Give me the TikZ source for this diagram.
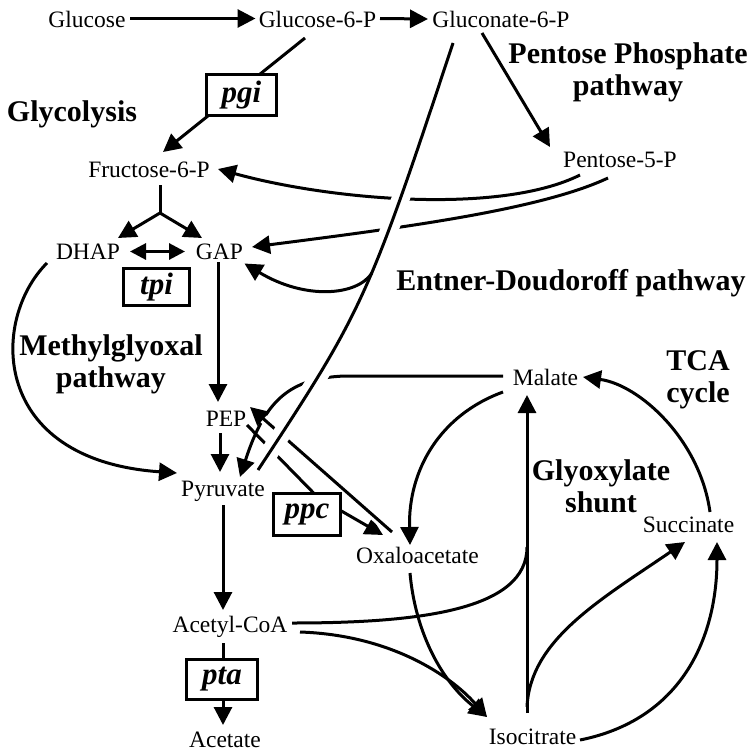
\documentclass[tikz,border=0pt]{standalone}
\usepackage{fontspec}
\setmainfont{Liberation Serif}
\usetikzlibrary{arrows.meta}
\pgfdeclarelayer{fg}
\pgfsetlayers{main,fg}
\begin{document}
\begin{tikzpicture}[x=1pt,y=-1pt,
  con/.style={line width=3pt},
  arr/.style={con,-{Triangle[length=18pt,width=18pt]}},
  darr/.style={con,{Triangle[length=16pt,width=16pt]}-{Triangle[length=16pt,width=16pt]}},
  met/.style={font=\fontsize{23.5}{26}\selectfont,inner sep=0pt,text height=15.5pt,text depth=0pt},
  lab/.style={font=\fontsize{30}{32}\selectfont\bfseries,align=center,inner sep=0pt},
  gene/.style={draw,fill=white,line width=3pt,inner sep=0pt,font=\fontsize{31}{33}\selectfont\bfseries\itshape},
  cut/.style={preaction={draw=white,-,line width=#1,shorten <=8pt,shorten >=8pt}}
]
\useasboundingbox (0,0) rectangle (750,752);

% metabolites
\node[met] (glc) at (87,19.5) {Glucose};
\node[met] (g6p) at (317.5,19.5) {Glucose-6-P};
\node[met] (gln) at (501,20) {Gluconate-6-P};
\node[met] (ppp) at (620,159.5) {Pentose-5-P};
\node[met] (f6p) at (149,169.5) {Fructose-6-P};
\node[met] (dhap) at (88,251.5) {DHAP};
\node[met] (gap) at (219.5,251.5) {GAP};
\node[met] (pep) at (226,418.5) {PEP};
\node[met] (pyr) at (223,488.5) {Pyruvate};
\node[met] (acc) at (230,625) {Acetyl-CoA};
\node[met] (ace) at (225,739.5) {Acetate};
\node[met] (oxa) at (417.5,555.5) {Oxaloacetate};
\node[met] (mal) at (545.5,377.5) {Malate};
\node[met] (suc) at (688.5,524.5) {Succinate};
\node[met] (iso) at (532.5,736.5) {Isocitrate};

% pathway labels
\node[lab] (glyc) at (72,114.5) {Glycolysis};
\node[lab] (pppl) at (628,72) {Pentose Phosphate\\pathway};
\node[lab] (edl) at (571,283) {Entner-Doudoroff pathway};
\node[lab] (mgl) at (111,364) {Methylglyoxal\\pathway};
\node[lab] (tcal) at (698,380) {TCA\\cycle};
\node[lab] (glyl) at (601,486) {Glyoxylate\\shunt};

% gene boxes (on top)
\begin{pgfonlayer}{fg}
\node[gene,minimum width=70pt,minimum height=41pt] (pgi) at (241.5,95) {pgi};
\node[gene,minimum width=66pt,minimum height=37pt] (tpi) at (156.5,287) {tpi};
\node[gene,minimum width=67pt,minimum height=42pt] (ppc) at (307,514.5) {ppc};
\node[gene,minimum width=71pt,minimum height=40pt] (pta) at (222,679.5) {pta};
\end{pgfonlayer}

\coordinate (fork) at (160,213);
\coordinate (edjoin) at (372,273);
\coordinate (shuntjoin) at (527,547);

% top row
\draw[arr] ([shift={(43,-1)}]glc.center) -- ([shift={(-62,-1)}]g6p.center);
\draw[arr] ([shift={(62.5,-1)}]g6p.center) -- ([shift={(-73,-1)}]gln.center);
\draw[arr] ([shift={(-12.5,18.5)}]g6p.center) -- ([shift={(14,-17.5)}]f6p.center);
\draw[arr] ([shift={(-19,13)}]gln.center) -- ([shift={(-70,-12.5)}]ppp.center);

% pentose phosphate returns (under the ED line)
\draw[arr] ([shift={(-40,15.5)}]ppp.center) .. controls (500,215) and (330,200) .. ([shift={(69,-0.5)}]f6p.center);
\draw[arr] ([shift={(-12,18.5)}]ppp.center) .. controls (540,210) and (400,228) .. ([shift={(32.5,-4.5)}]gap.center);

% glycolysis
\draw[con] ([shift={(11,15.5)}]f6p.center) -- (fork);
\draw[arr] (fork) -- ([shift={(30,-13.5)}]dhap.center);
\draw[arr] (fork) -- ([shift={(-17.5,-13.5)}]gap.center);
\draw[darr] ([shift={(42,0)}]dhap.center) -- ([shift={(-34.5,0)}]gap.center);
\draw[arr] ([shift={(-1.5,10.5)}]gap.center) -- ([shift={(-8,-16.5)}]pep.center);
\draw[arr] ([shift={(-6,14.5)}]pep.center) -- ([shift={(-3,-16.5)}]pyr.center);
\draw[arr] ([shift={(0,16.5)}]pyr.center) -- ([shift={(-7,-15)}]acc.center);
\draw[arr] ([shift={(-7,18)}]acc.center) -- ([shift={(-2,-14.5)}]ace.center);

% methylglyoxal
\draw[arr] ([shift={(-41,11.5)}]dhap.center) .. controls (-10,320) and (-10,460) .. ([shift={(-46,-15.5)}]pyr.center);

% malic enzyme
\draw[arr] ([shift={(-42.5,-1.5)}]mal.center) -- (345,376) .. controls (290,378) and (265,400) .. ([shift={(17,-11.5)}]pyr.center);

% ppc
\draw[arr] ([shift={(21,6.5)}]pep.center) -- ([shift={(11,-17)}]ppc.center) -- ([shift={(-34.5,-20.5)}]oxa.center);
\draw[arr,cut=9pt] ([shift={(-25.5,-23.5)}]oxa.center) -- ([shift={(24,-11.5)}]pep.center);

% Entner-Doudoroff
\draw[con,preaction={draw=white,line width=18pt,shorten <=20pt,shorten >=18pt}]
  ([shift={(-48,23)}]gln.center) .. controls (368,300) and (362,312) .. ([shift={(35,-18.5)}]pyr.center);
\draw[arr] (edjoin) .. controls (357,296) and (305,300) .. ([shift={(25,12)}]gap.center);

% TCA / glyoxylate
\draw[arr] ([shift={(-42.5,14.5)}]mal.center) .. controls (440,415) and (408,470) .. ([shift={(-7.5,-10.5)}]oxa.center);
\draw[arr] ([shift={(-7.5,17.5)}]oxa.center) .. controls (415,630) and (440,680) .. ([shift={(-45.5,-19.5)}]iso.center);
\draw[arr] ([shift={(70,7)}]acc.center) .. controls (390,635) and (450,675) .. ([shift={(-45.5,-19.5)}]iso.center);
\draw[con] ([shift={(62,-2)}]acc.center) .. controls (420,623) and (527,610) .. (shuntjoin);
\draw[arr] ([shift={(-5.5,-23.5)}]iso.center) -- ([shift={(-18.5,17.5)}]mal.center);
\draw[arr] ([shift={(-5.5,-29.5)}]iso.center) .. controls (530,640) and (600,600) .. ([shift={(-3.5,17.5)}]suc.center);
\draw[arr] ([shift={(47.5,3.5)}]iso.center) .. controls (680,720) and (717,640) .. ([shift={(28.5,17.5)}]suc.center);
\draw[arr] ([shift={(21.5,-12.5)}]suc.center) .. controls (700,440) and (640,385) .. ([shift={(37.5,-0.5)}]mal.center);
\end{tikzpicture}
\end{document}
